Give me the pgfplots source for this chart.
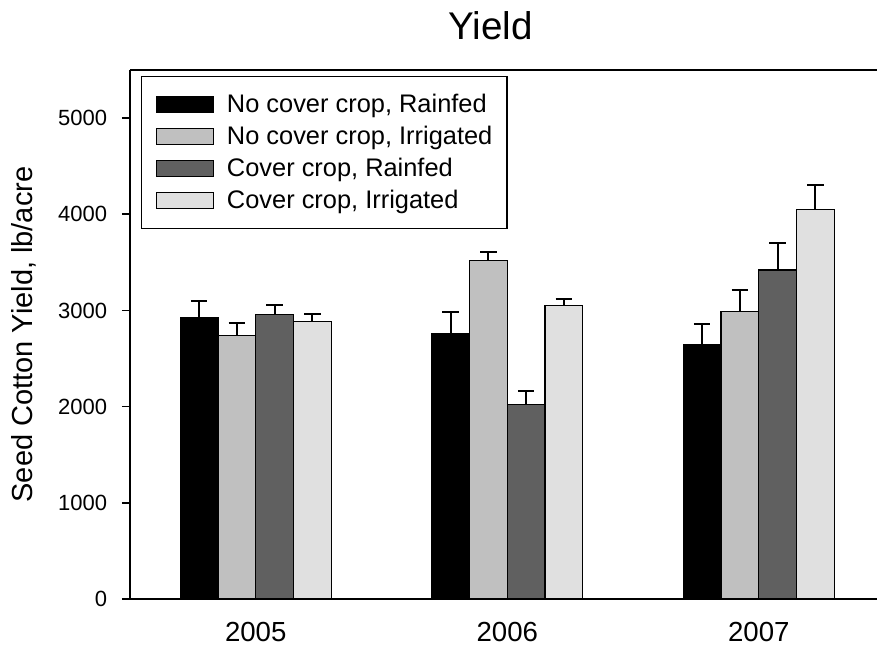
\documentclass[border=0pt]{standalone}
\usepackage{pgfplots}
\pgfplotsset{compat=1.18}
\usepackage{fontspec}
\setmainfont{Liberation Sans}

\definecolor{cA}{HTML}{000000}
\definecolor{cB}{HTML}{C0C0C0}
\definecolor{cC}{HTML}{606060}
\definecolor{cD}{HTML}{E0E0E0}

\pgfplotstableread{
x y e
0 2923 172
1 2757 224
2 2646 218
}\tA
\pgfplotstableread{
x y e
0 2736 138
1 3517 95
2 2992 221
}\tB
\pgfplotstableread{
x y e
0 2954 104
1 2020 141
2 3421 280
}\tC
\pgfplotstableread{
x y e
0 2885 83
1 3054 69
2 4053 253
}\tD

\begin{document}
\begin{tikzpicture}
\begin{axis}[
 name=ax,
 scale only axis,
 width=373.5bp, height=264.5bp,
 xmin=-0.5, xmax=2.47,
 ymin=0, ymax=5500,
 ybar=0pt, bar width=0.15,
 axis x line=box, axis y line=left,
 axis line style={-, line width=1bp},
 xtick={0,1,2}, xticklabels={2005,2006,2007},
 x tick style={draw=none},
 ytick={0,1000,...,5000},
 tick align=outside, ytick pos=left,
 major tick length=4bp,
 y tick style={line width=0.8bp, black},
 /pgf/number format/assume math mode=true,
 /pgf/number format/1000 sep={},
 xticklabel style={font=\fontsize{13.8bp}{16bp}\selectfont, anchor=north, inner sep=0pt, yshift=-7.3bp},
 yticklabel style={font=\fontsize{11bp}{13bp}\selectfont, anchor=east, inner sep=0pt, xshift=-7.3bp},
 title={Yield},
 every axis title/.style={at={(0.5,1)}, anchor=base, yshift=15.3bp, xshift=-6.5bp, font=\fontsize{19.3bp}{22bp}\selectfont},
 ylabel={Seed Cotton Yield, lb/acre},
 every axis y label/.style={at={(axis description cs:0,0.5)}, xshift=-53bp, rotate=90, anchor=center, font=\fontsize{14.5bp}{17bp}\selectfont},
 legend style={at={(0.0147,0.989)}, anchor=north west, draw=black, line width=0.6bp,
   font=\fontsize{12.7bp}{15bp}\selectfont, inner xsep=7.3bp, inner ysep=6bp,
   column sep=6.3bp, nodes={inner xsep=0bp, inner ysep=2.65bp}},
 legend cell align=left,
 every axis plot/.append style={
   legend image code/.code={\draw[##1, line width=0.6bp] (0bp,-4bp) rectangle (28.5bp,4bp);},
   draw=black, line width=0.6bp,
   error bars/y dir=plus, error bars/y explicit,
   error bars/error bar style={line width=1bp, black},
   error bars/error mark options={rotate=90, line width=1bp, mark size=4.1bp, black}},
]
\addplot[fill=cA] table[x=x, y=y, y error=e] {\tA};
\addplot[fill=cB] table[x=x, y=y, y error=e] {\tB};
\addplot[fill=cC] table[x=x, y=y, y error=e] {\tC};
\addplot[fill=cD] table[x=x, y=y, y error=e] {\tD};
\legend{{No cover crop, Rainfed}, {No cover crop, Irrigated}, {Cover crop, Rainfed}, {Cover crop, Irrigated}}
\end{axis}
\pgfresetboundingbox
\path[use as bounding box] ([xshift=-65bp,yshift=-23bp]ax.south west) rectangle ([yshift=35bp]ax.north east);
\end{tikzpicture}
\end{document}
